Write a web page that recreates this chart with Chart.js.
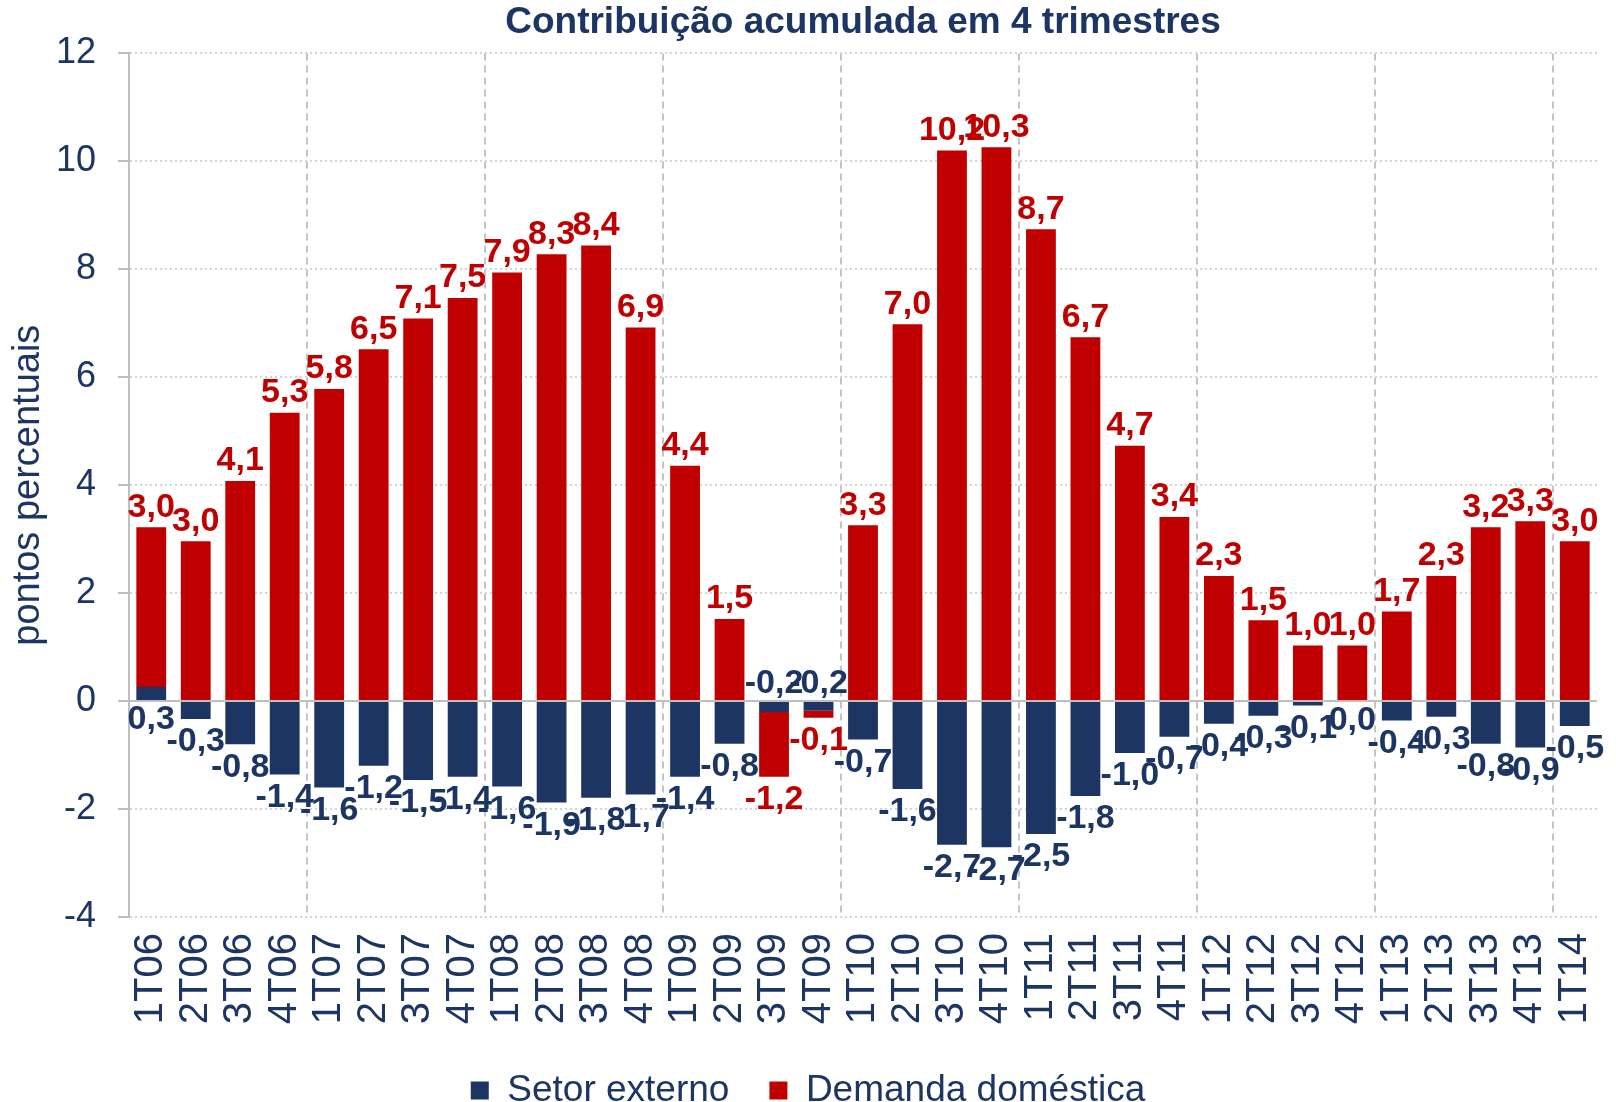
<!DOCTYPE html>
<html>
<head>
<meta charset="utf-8">
<script src="https://cdn.jsdelivr.net/npm/chart.js@4.4.0/dist/chart.umd.min.js"></script>
<style>
  html, body { margin: 0; padding: 0; background: #fff; }
</style>
</head>
<body>
<canvas id="grafico" width="1616" height="1102"></canvas>
<script>
// Dados (pontos percentuais)
const trimestres = [
  '1T06', '2T06', '3T06', '4T06', '1T07', '2T07', '3T07', '4T07',
  '1T08', '2T08', '3T08', '4T08', '1T09', '2T09', '3T09', '4T09',
  '1T10', '2T10', '3T10', '4T10', '1T11', '2T11', '3T11', '4T11',
  '1T12', '2T12', '3T12', '4T12', '1T13', '2T13', '3T13', '4T13', '1T14'
];
const setorExterno = [
  0.26, -0.33, -0.8, -1.36, -1.6, -1.2, -1.46, -1.4,
  -1.58, -1.88, -1.79, -1.73, -1.4, -0.79, -0.2, -0.18,
  -0.71, -1.63, -2.66, -2.71, -2.46, -1.76, -0.96, -0.66,
  -0.42, -0.27, -0.08, 0.0, -0.36, -0.29, -0.79, -0.86, -0.46
];
const demandaDomestica = [
  2.96, 2.96, 4.08, 5.34, 5.78, 6.52, 7.09, 7.47,
  7.94, 8.28, 8.44, 6.92, 4.36, 1.52, -1.2, -0.13,
  3.26, 6.98, 10.2, 10.26, 8.74, 6.74, 4.73, 3.41,
  2.32, 1.5, 1.03, 1.03, 1.66, 2.32, 3.22, 3.33, 2.96
];
const yMin = -4;
const yMax = 12;
const yPasso = 2;

const AZUL = '#1c3563';
const VERMELHO = '#c00000';
const FONTE = '"Liberation Sans", Arial, sans-serif';

Chart.defaults.font.family = FONTE;
Chart.defaults.color = AZUL;

function formatar(v) {
  let s = v.toFixed(1).replace('.', ',');
  if (s === '-0,0') s = '0,0';
  return s;
}

// linha do zero, por baixo das barras
const linhaZero = {
  id: 'linhaZero',
  beforeDatasetsDraw(chart) {
    const { ctx, chartArea } = chart;
    const y0 = chart.scales.y.getPixelForValue(0);
    ctx.save();
    ctx.strokeStyle = '#bfbfbf';
    ctx.lineWidth = 2;
    ctx.beginPath();
    ctx.moveTo(chartArea.left, y0);
    ctx.lineTo(chartArea.right, y0);
    ctx.stroke();
    ctx.restore();
  }
};

// rótulos de dados
const rotulos = {
  id: 'rotulos',
  afterDatasetsDraw(chart) {
    const ctx = chart.ctx;
    ctx.save();
    ctx.font = 'bold 34px ' + FONTE;
    ctx.textAlign = 'center';
    ctx.textBaseline = 'middle';
    chart.data.datasets.forEach((ds, di) => {
      const meta = chart.getDatasetMeta(di);
      meta.data.forEach((bar, i) => {
        const v = ds.data[i];
        const { x, y, base } = bar.getProps(['x', 'y', 'base'], true);
        let ty;
        if (di === 0) {
          if (v >= 0) ty = base + 20;
          else if (demandaDomestica[i] < 0) ty = base - 18;
          else ty = y + 23;
        } else {
          ty = v >= 0 ? y - 20 : y + 23;
        }
        ctx.fillStyle = ds.backgroundColor;
        ctx.fillText(formatar(v), x, ty);
      });
    });
    ctx.restore();
  }
};

new Chart(document.getElementById('grafico'), {
  type: 'bar',
  data: {
    labels: trimestres,
    datasets: [
      {
        label: 'Setor externo',
        data: setorExterno,
        backgroundColor: AZUL,
        barPercentage: 0.67,
        categoryPercentage: 1.0
      },
      {
        label: 'Demanda doméstica',
        data: demandaDomestica,
        backgroundColor: VERMELHO,
        barPercentage: 0.67,
        categoryPercentage: 1.0
      }
    ]
  },
  options: {
    responsive: false,
    animation: false,
    layout: { padding: { top: 0, right: 0, bottom: -17, left: 0 } },
    plugins: {
      tooltip: { enabled: false },
      title: {
        display: true,
        text: 'Contribuição acumulada em 4 trimestres',
        color: AZUL,
        font: { size: 37, weight: 'bold' },
        padding: { top: 1, bottom: 8 },
        fullSize: false
      },
      legend: {
        position: 'bottom',
        labels: {
          boxWidth: 18,
          boxHeight: 18,
          padding: 40,
          color: AZUL,
          font: { size: 37 }
        }
      }
    },
    scales: {
      x: {
        stacked: true,
        afterFit: (scale) => {
          scale.height = 115;
          scale.paddingLeft = 0;
          scale.paddingRight = 19;
        },
        grid: {
          offset: true,
          drawTicks: true,
          tickLength: 16,
          tickColor: 'rgba(0,0,0,0)',
          lineWidth: 2,
          color: (c) => (c.index !== undefined && c.index > 0 && c.index % 4 === 0) ? '#c4c4c4' : 'rgba(0,0,0,0)'
        },
        border: { display: false, dash: [7, 5] },
        ticks: {
          autoSkip: false,
          maxRotation: 90,
          minRotation: 90,
          padding: 0,
          color: AZUL,
          font: { size: 40 }
        }
      },
      y: {
        stacked: true,
        min: yMin,
        max: yMax,
        afterFit: (scale) => {
          scale.width = 129;
        },
        grid: {
          color: '#d4d4d4',
          lineWidth: 2,
          tickLength: 11,
          tickColor: '#bfbfbf',
          tickWidth: 2
        },
        border: { display: true, color: '#bfbfbf', width: 2, dash: [2, 3] },
        ticks: {
          stepSize: yPasso,
          padding: 22,
          color: AZUL,
          font: { size: 36 }
        },
        title: {
          display: true,
          text: 'pontos percentuais',
          color: AZUL,
          font: { size: 38 },
          padding: { top: 6, bottom: 8 }
        }
      }
    }
  },
  plugins: [linhaZero, rotulos]
});
</script>
</body>
</html>
